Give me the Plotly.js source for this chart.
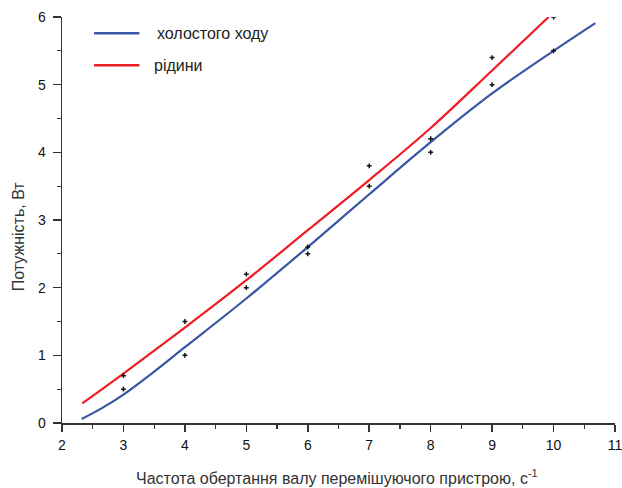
<!DOCTYPE html>
<html>
<head>
<meta charset="utf-8">
<script src="https://cdn.plot.ly/plotly-3.0.1.min.js"></script>
<style>
  html, body { margin: 0; padding: 0; background: #fff; }
  #chart { width: 622px; height: 488px; }
</style>
</head>
<body>
<div id="chart"></div>
<script>
// Measured points: shaft rotation frequency (1/s) vs power (W)
const measX = [3, 3, 4, 4, 5, 5, 6, 6, 7, 7, 8, 8, 9, 9, 10, 10];
const measY = [0.7, 0.5, 1.5, 1.0, 2.2, 2.0, 2.6, 2.5, 3.8, 3.5, 4.2, 4.0, 5.4, 5.0, 6.0, 5.5];

// Fitted curve: idle run
const idleX = [2.32, 2.65, 3, 3.5, 4, 5, 6, 7, 8, 9, 10, 10.68];
const idleY = [0.06, 0.22, 0.42, 0.76, 1.12, 1.84, 2.6, 3.38, 4.15, 4.87, 5.5, 5.91];

// Fitted curve: with liquid
const liquidX = [2.33, 3, 4, 5, 6, 7, 8, 9, 9.92];
const liquidY = [0.29, 0.73, 1.41, 2.11, 2.85, 3.59, 4.36, 5.21, 6.0];

const seriesNames = [' холостого ходу', 'рідини'];
const seriesColors = ['#3a55a4', '#ee1c25'];

const xTicks = [2, 3, 4, 5, 6, 7, 8, 9, 10, 11];
const yTicks = [0, 1, 2, 3, 4, 5, 6];

const axisColor = '#333333';
const font = 'Liberation Sans, Arial, sans-serif';

const traces = [
  {
    x: idleX, y: idleY, type: 'scatter', mode: 'lines',
    name: seriesNames[0],
    line: { color: seriesColors[0], width: 2.2, shape: 'spline', smoothing: 1 }
  },
  {
    x: liquidX, y: liquidY, type: 'scatter', mode: 'lines',
    name: seriesNames[1],
    line: { color: seriesColors[1], width: 2.2, shape: 'spline', smoothing: 1 }
  },
  {
    x: measX, y: measY, type: 'scatter', mode: 'markers',
    marker: { symbol: 'cross-thin', size: 3.5, color: '#111', line: { color: '#111', width: 1.5 } }
  }
];

// Legend drawn as line samples with labels in the upper-left corner
const legendRowsY = [0.96, 0.881];
const legendShapes = seriesColors.map((c, i) => ({
  type: 'line', xref: 'paper', yref: 'paper',
  x0: 0.058, x1: 0.14, y0: legendRowsY[i], y1: legendRowsY[i],
  line: { color: c, width: 2.5 }
}));
const legendLabels = seriesNames.map((t, i) => ({
  xref: 'paper', yref: 'paper', x: i === 0 ? 0.169 : 0.163, y: legendRowsY[i],
  xanchor: 'left', yanchor: 'middle', showarrow: false, text: t.trim(),
  font: { family: font, size: 16, color: '#222' }
}));

const layout = {
  width: 622, height: 488,
  margin: { l: 62, r: 7, t: 17, b: 65 },
  paper_bgcolor: '#fff', plot_bgcolor: '#fff',
  font: { family: font, color: '#222', size: 13 },
  showlegend: false,
  shapes: legendShapes,
  annotations: legendLabels.concat([
    {
      xref: 'paper', yref: 'paper', x: 0.497, y: -0.132,
      xanchor: 'center', yanchor: 'middle', showarrow: false,
      text: 'Частота обертання валу перемішуючого пристрою, с<sup>-1</sup>',
      font: { family: font, size: 16, color: '#333' }
    },
    {
      xref: 'paper', yref: 'paper', x: -0.0796, y: 0.46,
      xanchor: 'center', yanchor: 'middle', showarrow: false, textangle: -90,
      text: 'Потужність, Вт',
      font: { family: font, size: 16, color: '#333' }
    }
  ]),
  xaxis: {
    range: [2, 11], tickvals: xTicks, ticktext: xTicks.map(String),
    showgrid: false, zeroline: false,
    showline: true, linecolor: axisColor, linewidth: 1.5,
    ticks: 'outside', ticklen: 7, tickwidth: 1.5, tickcolor: axisColor,
    ticklabelstandoff: 2, ticklabeloverflow: 'allow',
    tickfont: { family: font, size: 14, color: '#111' },
    minor: { dtick: 0.5, tick0: 2, ticks: 'outside', ticklen: 4, tickwidth: 1.3, tickcolor: axisColor, showgrid: false }
  },
  yaxis: {
    range: [0, 6], tickvals: yTicks, ticktext: yTicks.map(String),
    showgrid: false, zeroline: false,
    showline: true, linecolor: axisColor, linewidth: 1.5,
    ticks: 'outside', ticklen: 8, tickwidth: 1.5, tickcolor: axisColor,
    ticklabelstandoff: 4, ticklabeloverflow: 'allow',
    tickfont: { family: font, size: 14, color: '#111' },
    minor: { dtick: 0.5, tick0: 0, ticks: 'outside', ticklen: 4, tickwidth: 1.3, tickcolor: axisColor, showgrid: false }
  }
};

Plotly.newPlot('chart', traces, layout, { displayModeBar: false, staticPlot: true });
</script>
</body>
</html>
